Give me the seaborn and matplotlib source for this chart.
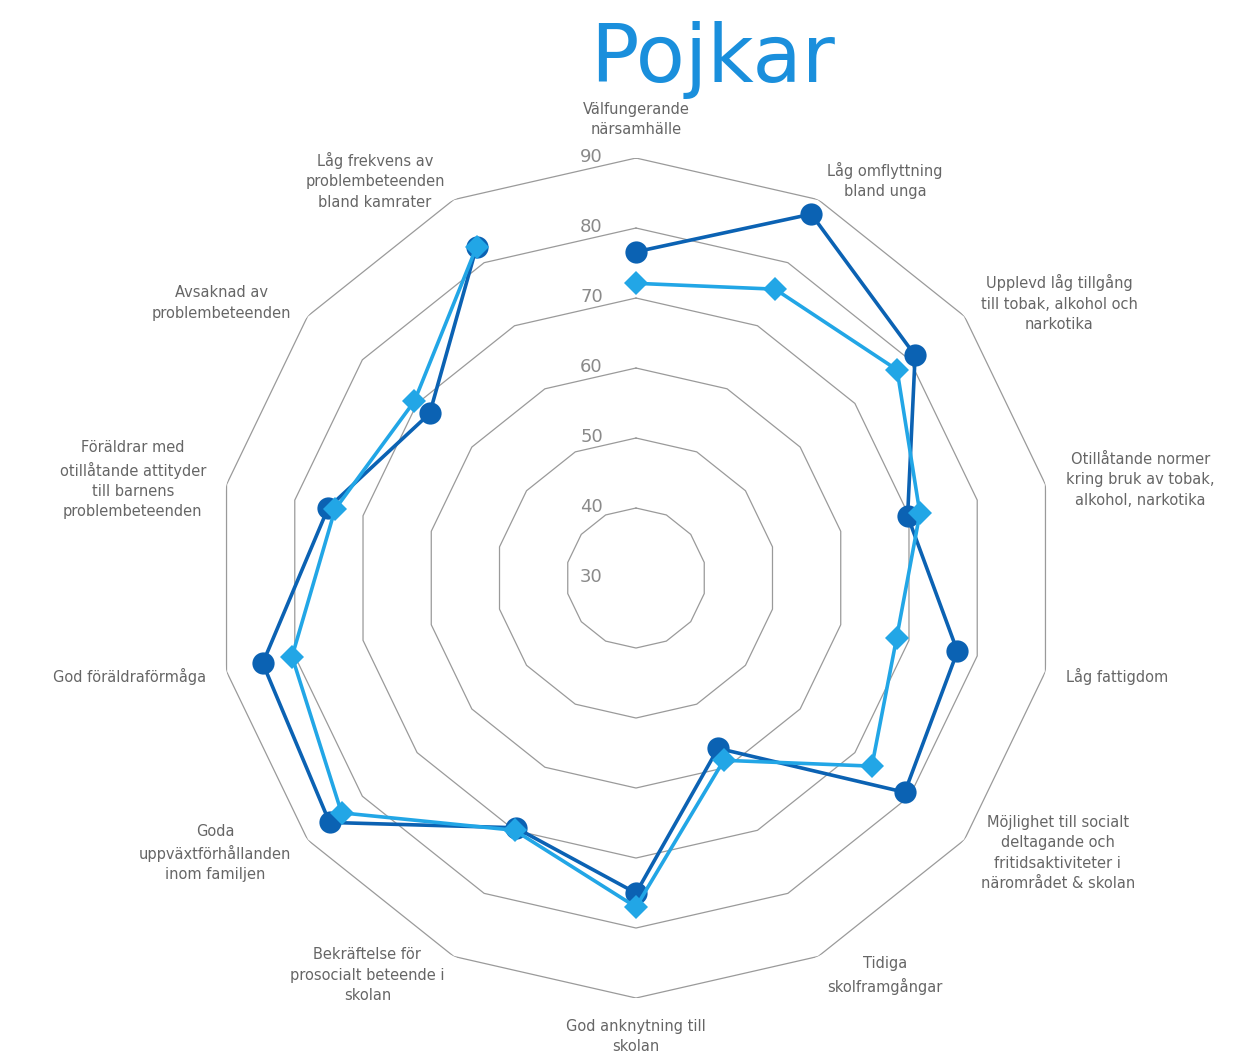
import numpy as np
import pandas as pd
import seaborn as sns
import matplotlib.pyplot as plt

categories = [
    "Välfungerande\nnärsamhälle",
    "Låg omflyttning\nbland unga",
    "Upplevd låg tillgång\ntill tobak, alkohol och\nnarkotika",
    "Otillåtande normer\nkring bruk av tobak,\nalkohol, narkotika",
    "Låg fattigdom",
    "Möjlighet till socialt\ndeltagande och\nfritidsaktiviteter i\nnärområdet & skolan",
    "Tidiga\nskolframgångar",
    "God anknytning till\nskolan",
    "Bekräftelse för\nprosocialt beteende i\nskolan",
    "Goda\nuppväxtförhållanden\ninom familjen",
    "God föräldraförmåga",
    "Föräldrar med\notillåtande attityder\ntill barnens\nproblembeteenden",
    "Avsaknad av\nproblembeteenden",
    "Låg frekvens av\nproblembeteenden\nbland kamrater",
]
series_dark = [76.6, 87.7, 81.0, 69.8, 77.1, 79.1, 57.0, 75.0, 69.6, 86.0, 84.7, 75.1, 67.7, 82.5]
series_light = [72.1, 75.8, 77.7, 71.6, 68.2, 73.1, 58.9, 77.0, 70.0, 83.8, 80.4, 74.1, 70.5, 82.5]
levels = [40, 50, 60, 70, 80, 90]
center_label = 30

sns.set_theme(style="white")
plt.rcParams['font.family'] = ['DejaVu Sans']

n = len(categories)
theta = np.linspace(0, 2 * np.pi, n, endpoint=False)
theta_closed = np.append(theta, theta[0])

fig = plt.figure(figsize=(12.5, 10.57), dpi=100)
ax = fig.add_axes([0.1728, 0.0558, 0.672, 0.7947], projection="polar")
ax.set_theta_zero_location("N")
ax.set_theta_direction(-1)
ax.set_ylim(30, 90)
ax.grid(False)
ax.spines["polar"].set_visible(False)
ax.set_xticks([])
ax.set_yticks([])
ax.set_facecolor("none")

# polygon grid
for lvl in levels:
    ax.plot(theta_closed, [lvl] * (n + 1), color="#9a9a9a", lw=0.9, zorder=1)
for lvl in [center_label] + levels:
    ax.annotate(str(lvl), xy=(0, lvl), xytext=(-32, 1), textcoords="offset points",
                ha="center", va="center", fontsize=13, color="#8a8a8a")

df = pd.DataFrame({
    "theta": np.concatenate([theta_closed, theta_closed]),
    "value": series_dark + series_dark[:1] + series_light + series_light[:1],
    "serie": ["dark"] * (n + 1) + ["light"] * (n + 1),
})

sns.lineplot(data=df[df.serie == "dark"], x="theta", y="value", sort=False, ax=ax,
             color="#0b62b3", lw=2.6, marker="o", markersize=16,
             markeredgewidth=0, zorder=3)
sns.lineplot(data=df[df.serie == "light"], x="theta", y="value", sort=False, ax=ax,
             color="#22a6e6", lw=2.6, marker="D", markersize=12,
             markeredgewidth=0, zorder=4)
ax.set_xlabel("")
ax.set_ylabel("")

# category labels
for t, lab in zip(theta, categories):
    s, c = np.sin(t), np.cos(t)
    ha = "left" if s > 0.1 else ("right" if s < -0.1 else "center")
    if c > 0.95:
        va = "bottom"
    elif c < -0.95:
        va = "top"
    else:
        va = "center"
    ax.text(t, 93, lab, ha=ha, va=va, multialignment="center", fontsize=10.5,
            color="#666666", linespacing=1.45, clip_on=False)

fig.text(0.57, 0.922, "Pojkar", ha="center", va="baseline", fontsize=58,
         color="#1a8fdc")

plt.savefig("out.png", dpi=100, facecolor="white")
plt.close()
